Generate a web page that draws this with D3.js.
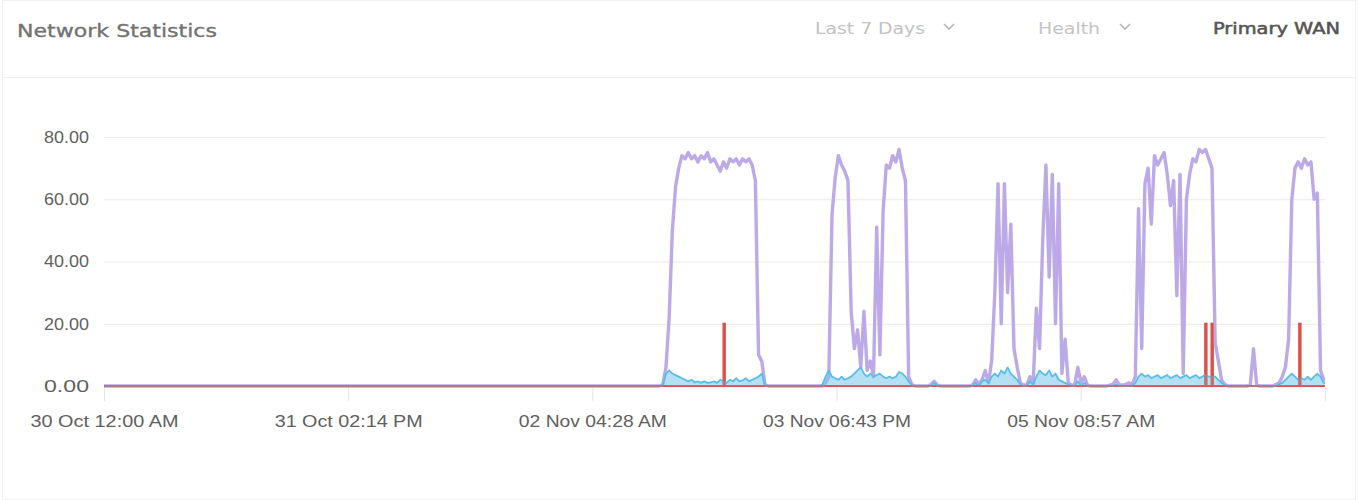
<!DOCTYPE html>
<html>
<head>
<meta charset="utf-8">
<script src="https://cdn.jsdelivr.net/npm/d3@7"></script>
<style>
  html, body { margin: 0; padding: 0; background: #fff; }
  svg { display: block; }
</style>
</head>
<body>
<svg id="chart" width="1358" height="500"></svg>
<script>
// ---------- DATA ----------
const title = "Network Statistics";
const headerControls = ["Last 7 Days", "Health", "Primary WAN"];

// hours since 30 Oct 12:00 AM
const xDomainHours = [0, 191.2];
const xTickHours = [0, 38.236, 76.472, 114.708, 152.944, 191.18];
const xTickLabels = ["30 Oct 12:00 AM", "31 Oct 02:14 PM", "02 Nov 04:28 AM", "03 Nov 06:43 PM", "05 Nov 08:57 AM", ""];
const yTicks = [0, 20, 40, 60, 80];

// samples every 0.5 h starting at hour 87 (before that everything is 0)
const sampleStartHour = 87;
const sampleStepHour = 0.5;

const downloadValues = [
  0, 0.5, 6, 22, 50, 64, 70, 74, 73, 75,
  73, 74, 72, 74, 73, 75, 72, 73, 71, 69,
  72, 70, 73, 72, 73, 71, 73, 72, 73, 71,
  66, 10, 8, 0.5, 0, 0, 0, 0, 0, 0,
  0, 0, 0, 0, 0, 0, 0, 0, 0, 0,
  0, 0, 1, 3, 55, 67, 74, 71, 69, 66,
  24, 12, 18, 6, 24, 5, 8, 3, 51, 10,
  56, 71, 70, 74, 72, 76, 70, 66, 3, 0.5,
  0, 0, 0, 0, 0, 0.5, 1.5, 0.3, 0, 0,
  0, 0, 0, 0, 0, 0, 0, 0, 0.3, 2,
  0.5, 2, 5, 1, 8, 30, 65, 20, 65, 30,
  52, 12, 6, 1, 0.3, 0.3, 3, 0.5, 25, 12,
  47, 71, 35, 68, 20, 65, 4, 15, 1, 0.3,
  0.3, 6, 1, 3, 0.3, 0, 0, 0, 0, 0,
  0, 0.3, 0.5, 2, 0.3, 0.3, 0.5, 1, 0.5, 3,
  57, 12, 65, 70, 52, 74, 71, 73, 75, 68,
  58, 66, 29, 68, 4, 60, 68, 73, 72, 76,
  75, 76, 73, 70, 14, 8, 2, 0.5, 0, 0,
  0, 0, 0, 0, 0, 0.3, 12, 0.3, 0, 0,
  0, 0, 0, 0.5, 1, 3, 6, 15, 60, 70,
  72, 70, 73, 71, 72, 60, 62, 5, 2
];

const uploadValues = [
  0, 0.3, 4, 5, 4, 3.5, 3, 2.5, 2, 1.5,
  2, 1.2, 1.5, 1, 1.5, 1, 1.2, 1.5, 1, 2,
  1.5, 1, 2, 1.5, 2.5, 1.5, 1.8, 2.5, 1.5, 2,
  2.5, 3, 4, 0.3, 0, 0, 0, 0, 0, 0,
  0, 0, 0, 0, 0, 0, 0, 0, 0, 0,
  0, 0.5, 3, 5, 3, 2.5, 2, 3, 2, 2.5,
  3, 4, 5, 6, 4, 3, 4, 3, 3.5, 4,
  3, 2.5, 3, 2.5, 3, 4.5, 4, 3, 1.5, 0.3,
  0, 0, 0, 0, 0, 0, 1, 0, 0, 0,
  0, 0, 0, 0, 0, 0, 0, 0, 0, 1,
  0, 1.5, 2, 1, 3, 4, 3, 5, 4, 6,
  4, 3, 2, 0.5, 0, 0, 1.5, 0.5, 3, 5,
  4, 3.5, 5, 3, 4, 2, 1.5, 1, 0.5, 0,
  0, 1.5, 0, 1, 0, 0, 0, 0, 0, 0,
  0, 0, 0, 0.5, 0, 0, 0, 0, 0, 1,
  3, 4, 3, 3.5, 2.5, 3, 3.5, 2.5, 3, 3.5,
  2.5, 3, 3.5, 2.5, 3, 3.5, 2.5, 3, 3.5, 2.5,
  3, 3.5, 3, 3, 3, 2, 1, 0.3, 0, 0,
  0, 0, 0, 0, 0, 0, 0, 0, 0, 0,
  0, 0, 0, 0, 0.5, 1, 2, 3, 4, 3,
  2, 2.5, 2, 3, 2, 3, 4, 3, 1
];

// error series: [hour, value]
const errorPoints = [
  [0, 0], [97.02, 0], [97.02, 20], [97.22, 20], [97.22, 0],
  [172.44, 0], [172.44, 20], [172.64, 20], [172.64, 0],
  [173.44, 0], [173.44, 20], [173.64, 20], [173.64, 0],
  [187.16, 0], [187.16, 20], [187.36, 20], [187.36, 0],
  [191.2, 0]
];

// ---------- BUILD ----------
const W = 1358, H = 500;
const plot = { left: 104, right: 1325, top: 137, bottom: 386 };

const svg = d3.select("#chart");

// card
svg.append("rect").attr("x", 2.5).attr("y", 0.5).attr("width", W - 5).attr("height", H - 1)
  .attr("fill", "#fff").attr("stroke", "#f1f1f1");
svg.append("line").attr("x1", 3).attr("x2", W - 3).attr("y1", 77.5).attr("y2", 77.5)
  .attr("stroke", "#f0f0f0");

// header
const headerFont = "'DejaVu Sans', 'Noto Sans', sans-serif";
svg.append("text").attr("x", 17).attr("y", 37).text(title)
  .attr("font-family", headerFont).attr("font-size", 18.5)
  .attr("fill", "#727272").attr("stroke", "#727272").attr("stroke-width", 0.35)
  .attr("textLength", 200).attr("lengthAdjust", "spacingAndGlyphs");

const ctrl = [
  { text: headerControls[0], x: 815, w: 110, color: "#c2c2c2", sw: 0, chevron: 949 },
  { text: headerControls[1], x: 1038, w: 62, color: "#c4c4c4", sw: 0, chevron: 1125 },
  { text: headerControls[2], x: 1213, w: 127, color: "#555555", sw: 0.55, chevron: null }
];
ctrl.forEach(c => {
  svg.append("text").attr("x", c.x).attr("y", 34).text(c.text)
    .attr("font-family", headerFont).attr("font-size", 16.5)
    .attr("fill", c.color).attr("stroke", c.sw ? c.color : "none").attr("stroke-width", c.sw)
    .attr("textLength", c.w).attr("lengthAdjust", "spacingAndGlyphs");
  if (c.chevron) {
    svg.append("path")
      .attr("d", `M${c.chevron - 5},${24} L${c.chevron},${29} L${c.chevron + 5},${24}`)
      .attr("fill", "none").attr("stroke", "#b8b8b8").attr("stroke-width", 1.6);
  }
});

const x = d3.scaleLinear().domain(xDomainHours).range([plot.left, plot.right]);
const y = d3.scaleLinear().domain([0, 80]).range([plot.bottom, plot.top]);

const axisFont = "'Liberation Sans', Arial, sans-serif";

// grid
const grid = svg.append("g").attr("transform", `translate(${plot.left},0)`)
  .call(d3.axisLeft(y).tickValues(yTicks).tickSize(-(plot.right - plot.left)).tickFormat(""));
grid.select(".domain").remove();
grid.selectAll("line").attr("stroke", "#e9e9ee").attr("stroke-width", 1.2);

// y axis labels
const yAxis = svg.append("g").attr("transform", `translate(${plot.left},0)`)
  .call(d3.axisLeft(y).tickValues(yTicks).tickSize(0).tickPadding(15).tickFormat(d3.format(".2f")));
yAxis.select(".domain").remove();
yAxis.selectAll("text").attr("font-family", axisFont).attr("font-size", 16.5)
  .attr("fill", "#606060").attr("textLength", 45).attr("lengthAdjust", "spacingAndGlyphs");

// x axis
const xAxis = svg.append("g").attr("transform", `translate(0,${plot.bottom})`)
  .call(d3.axisBottom(x).tickValues(xTickHours).tickSize(15).tickPadding(14)
    .tickFormat((d, i) => xTickLabels[i]));
xAxis.select(".domain").remove();
xAxis.selectAll("line").attr("stroke", "#e6e6e6");
xAxis.selectAll("text").attr("font-family", axisFont).attr("font-size", 16.5)
  .attr("fill", "#606060")
  .each(function (d, i) { if (xTickLabels[i]) d3.select(this).attr("textLength", 148).attr("lengthAdjust", "spacingAndGlyphs"); });

// series
const toPoints = vals => [[0, 0]].concat(vals.map((v, i) => [sampleStartHour + i * sampleStepHour, v]))
  .concat([[xDomainHours[1], vals[vals.length - 1]]]);

const dlPts = toPoints(downloadValues);
const ulPts = toPoints(uploadValues);

const line = d3.line().x(d => x(d[0])).y(d => y(d[1]));
const area = d3.area().x(d => x(d[0])).y0(y(0)).y1(d => y(d[1]));

const g = svg.append("g");
g.append("path").datum(errorPoints).attr("d", line)
  .attr("fill", "none").attr("stroke", "#d9534f").attr("stroke-width", 2);
g.append("path").datum(dlPts).attr("d", line)
  .attr("fill", "none").attr("stroke", "#b5a1e6").attr("stroke-width", 3.4)
  .attr("stroke-linejoin", "round").attr("stroke-opacity", 0.9);
g.append("path").datum(ulPts).attr("d", area)
  .attr("fill", "#74c6ea").attr("fill-opacity", 0.55);
g.append("path").datum(ulPts).attr("d", line)
  .attr("fill", "none").attr("stroke", "#5bbde6").attr("stroke-width", 1.8)
  .attr("stroke-linejoin", "round");
// error spikes on top
g.append("path").datum(errorPoints).attr("d", line)
  .attr("fill", "none").attr("stroke", "#dd5148").attr("stroke-width", 1.8)
  .attr("stroke-opacity", 0.6);
</script>
</body>
</html>
